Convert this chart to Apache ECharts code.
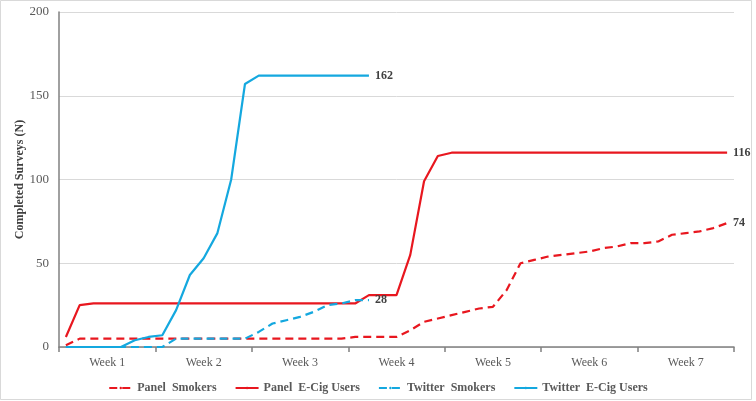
<!DOCTYPE html>
<html>
<head>
<meta charset="utf-8">
<script src="https://cdn.jsdelivr.net/npm/echarts@6/dist/echarts.min.js"></script>
<style>
html,body{margin:0;padding:0;background:#fff;}
#chart{width:756px;height:401px;}
</style>
</head>
<body>
<div id="chart"></div>
<script>
// 49 daily points, 7 per week
const weeks = ['Week 1','Week 2','Week 3','Week 4','Week 5','Week 6','Week 7'];
const days = Array.from({length: 49}, (_, i) => 'Day ' + (i + 1));

const panelSmokers = [1,5,5,5,5,5,5, 5,5,5,5,5,5,5, 5,5,5,5,5,5,5,
  6,6,6,6,10,15,17, 19,21,23,24,34,50,52, 54,55,56,57,59,60,62, 62,63,67,68,69,71,74];
const panelEcig = [6,25,26,26,26,26,26, 26,26,26,26,26,26,26, 26,26,26,26,26,26,26,
  26,31,31,31,55,99,114, 116,116,116,116,116,116,116, 116,116,116,116,116,116,116, 116,116,116,116,116,116,116];
const twitterSmokers = [0,0,0,0,0,0,0, 0,5,5,5,5,5,5, 9,14,16,18,21,25,26, 28,28];
const twitterEcig = [0,0,0,0,0,4,6, 7,22,43,53,68,100,157, 162,162,162,162,162,162,162, 162,162];

const RED = '#e8171f';
const BLUE = '#14a8df';
const LABEL_FONT = '"Liberation Serif", "DejaVu Serif", serif';

function makeSeries(name, arr, color, dashed) {
  return {
    name: name,
    type: 'line',
    data: arr,
    symbol: 'none',
    showSymbol: false,
    smooth: false,
    lineStyle: {color: color, width: 2.2, type: dashed ? [8, 5] : 'solid'},
    itemStyle: {color: color},
    endLabel: {
      show: true,
      distance: 6,
      formatter: function (p) { return String(p.value); },
      fontFamily: LABEL_FONT,
      fontWeight: 'bold',
      fontSize: 12,
      color: '#404040'
    },
    emphasis: {disabled: true},
    animation: false
  };
}

const chart = echarts.init(document.getElementById('chart'), null, {renderer: 'canvas'});
chart.setOption({
  backgroundColor: '#ffffff',
  animation: false,
  graphic: [{
    type: 'rect',
    shape: {x: 0.5, y: 0.5, width: 751, height: 399},
    style: {fill: 'none', stroke: '#d9d9d9', lineWidth: 1},
    silent: true
  }],
  grid: {left: 59, right: 22, top: 12, bottom: 54},
  legend: {
    left: 'center',
    top: 377,
    itemWidth: 23,
    itemHeight: 3,
    itemGap: 18,
    textStyle: {fontFamily: LABEL_FONT, fontWeight: 'bold', fontSize: 12, color: '#595959'},
    data: ['Panel  Smokers', 'Panel  E-Cig Users', 'Twitter  Smokers', 'Twitter  E-Cig Users']
  },
  xAxis: {
    type: 'category',
    data: days,
    boundaryGap: true,
    axisLine: {lineStyle: {color: '#808080', width: 1.5}},
    axisTick: {
      show: true,
      length: 5,
      interval: function (index) { return index % 7 === 0; },
      lineStyle: {color: '#808080', width: 1.5}
    },
    axisLabel: {
      interval: function (index) { return index % 7 === 3; },
      formatter: function (value, index) { return weeks[Math.floor(index / 7)]; },
      fontFamily: LABEL_FONT,
      fontSize: 12,
      color: '#595959',
      margin: 10
    },
    splitLine: {show: false}
  },
  yAxis: {
    type: 'value',
    min: 0,
    max: 200,
    interval: 50,
    name: 'Completed Surveys (N)',
    nameLocation: 'middle',
    nameGap: 33,
    nameMoveOverlap: false,
    nameTextStyle: {fontFamily: LABEL_FONT, fontWeight: 'bold', fontSize: 12, color: '#404040'},
    axisLine: {show: true, lineStyle: {color: '#808080', width: 1.5}},
    axisTick: {show: false},
    axisLabel: {fontFamily: LABEL_FONT, fontSize: 13, color: '#595959', margin: 10},
    splitLine: {lineStyle: {color: '#d9d9d9', width: 1}}
  },
  series: [
    makeSeries('Panel  Smokers', panelSmokers, RED, true),
    makeSeries('Panel  E-Cig Users', panelEcig, RED, false),
    makeSeries('Twitter  Smokers', twitterSmokers, BLUE, true),
    makeSeries('Twitter  E-Cig Users', twitterEcig, BLUE, false)
  ]
});
</script>
</body>
</html>
